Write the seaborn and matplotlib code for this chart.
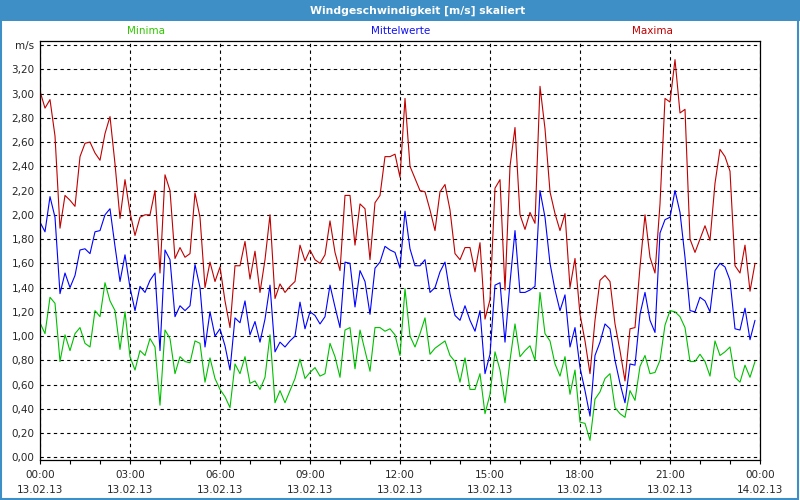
import pandas as pd
import matplotlib
matplotlib.use("Agg")
import matplotlib.pyplot as plt
import matplotlib.dates as mdates
from matplotlib.patches import Rectangle
from matplotlib.ticker import FixedLocator, FixedFormatter
import seaborn as sns

maxima = [
    3.02, 2.88, 2.95, 2.65, 1.89, 2.16, 2.12, 2.07, 2.48, 2.59, 2.60, 2.51, 2.45, 2.67, 2.81, 2.42,
    1.97, 2.29, 2.02, 1.83, 1.98, 2.00, 2.00, 2.20, 1.52,
    2.33, 2.20, 1.64, 1.73, 1.65, 1.68, 2.18, 1.98, 1.40, 1.61, 1.45, 1.57, 1.29, 1.07, 1.58, 1.58, 1.78, 1.47,
    1.70, 1.36, 1.63, 2.00, 1.31, 1.43, 1.36, 1.41, 1.45, 1.75, 1.62, 1.71, 1.63, 1.60, 1.67, 1.95, 1.69, 1.54,
    2.16, 2.16, 1.75, 2.09, 2.05, 1.63, 2.10, 2.16, 2.48, 2.48, 2.50, 2.31, 2.96, 2.40, 2.30, 2.20, 2.19, 2.04,
    1.87, 2.19, 2.25, 2.04, 1.68, 1.63, 1.73, 1.73, 1.53, 1.77, 1.14, 1.30, 2.22, 2.29, 1.38, 2.40, 2.72, 2.00,
    1.88, 2.02, 1.93, 3.06, 2.71, 2.19, 2.01, 1.87, 2.01, 1.40, 1.64, 1.18, 0.96, 0.69, 1.13, 1.46, 1.50, 1.45,
    1.10, 0.88, 0.63, 1.06, 1.07, 1.57, 2.00, 1.65, 1.52, 2.09, 2.96, 2.93, 3.28, 2.84, 2.87, 1.80, 1.69, 1.80,
    1.91, 1.79, 2.26, 2.54, 2.48, 2.36, 1.58, 1.52, 1.75, 1.37, 1.60,
]
mittelwerte = [
    1.94, 1.86, 2.15, 1.98, 1.35, 1.52, 1.40, 1.50, 1.71, 1.72, 1.68, 1.86, 1.87, 2.00, 2.05, 1.74,
    1.45, 1.67, 1.40, 1.21, 1.41, 1.36, 1.46, 1.52, 0.88,
    1.71, 1.63, 1.16, 1.25, 1.21, 1.25, 1.59, 1.40, 0.91, 1.20, 1.00, 1.06, 0.92, 0.72, 1.15, 1.11, 1.29, 1.01,
    1.12, 0.95, 1.14, 1.42, 0.87, 0.95, 0.91, 0.96, 1.00, 1.28, 1.06, 1.20, 1.17, 1.10, 1.16, 1.42, 1.24, 1.07,
    1.61, 1.60, 1.24, 1.54, 1.45, 1.18, 1.56, 1.61, 1.74, 1.71, 1.69, 1.56, 2.03, 1.72, 1.58, 1.58, 1.63, 1.36,
    1.40, 1.53, 1.61, 1.35, 1.17, 1.13, 1.25, 1.13, 1.04, 1.21, 0.69, 0.85, 1.42, 1.44, 0.95, 1.44, 1.87, 1.36,
    1.36, 1.38, 1.41, 2.20, 1.98, 1.60, 1.38, 1.21, 1.34, 0.91, 1.07, 0.74, 0.55, 0.34, 0.84, 0.95, 1.10, 1.06,
    0.80, 0.61, 0.45, 0.77, 0.76, 1.18, 1.36, 1.13, 1.03, 1.85, 1.96, 1.98, 2.20, 2.02, 1.65, 1.21, 1.20, 1.32,
    1.29, 1.20, 1.54, 1.60, 1.57, 1.46, 1.06, 1.05, 1.23, 0.97, 1.13,
]
minima = [
    1.11, 1.02, 1.32, 1.27, 0.79, 1.01, 0.88, 1.02, 1.07, 0.94, 0.91, 1.21, 1.16, 1.44, 1.29, 1.21,
    0.89, 1.20, 0.83, 0.72, 0.88, 0.84, 0.98, 0.91, 0.43,
    1.05, 0.98, 0.69, 0.83, 0.79, 0.78, 0.96, 0.94, 0.62, 0.82, 0.65, 0.56, 0.50, 0.41, 0.77, 0.69, 0.83, 0.61,
    0.63, 0.56, 0.66, 1.01, 0.45, 0.55, 0.45, 0.55, 0.65, 0.81, 0.65, 0.70, 0.74, 0.67, 0.69, 0.94, 0.83, 0.66,
    1.05, 1.07, 0.73, 1.05, 0.88, 0.71, 1.07, 1.07, 1.04, 1.06, 1.01, 0.84, 1.39, 1.00, 0.91, 1.02, 1.15, 0.85,
    0.90, 0.93, 0.96, 0.84, 0.79, 0.62, 0.82, 0.56, 0.56, 0.69, 0.36, 0.52, 0.87, 0.72, 0.45, 0.80, 1.10, 0.83,
    0.88, 0.92, 0.80, 1.36, 1.02, 0.96, 0.77, 0.67, 0.83, 0.52, 0.72, 0.29, 0.28, 0.14, 0.48, 0.54, 0.65, 0.69,
    0.41, 0.36, 0.33, 0.55, 0.47, 0.75, 0.84, 0.69, 0.70, 0.80, 1.09, 1.21, 1.20, 1.16, 1.07, 0.79, 0.79, 0.85,
    0.79, 0.67, 0.96, 0.84, 0.87, 0.91, 0.66, 0.62, 0.76, 0.66, 0.79,
]

y_ticks = [0.0, 0.2, 0.4, 0.6, 0.8, 1.0, 1.2, 1.4, 1.6, 1.8, 2.0, 2.2, 2.4, 2.6, 2.8, 3.0, 3.2, 3.4]
y_labels = ["0,00", "0,20", "0,40", "0,60", "0,80", "1,00", "1,20", "1,40", "1,60", "1,80",
            "2,00", "2,20", "2,40", "2,60", "2,80", "3,00", "3,20", "m/s"]

titel = "Windgeschwindigkeit [m/s] skaliert"
start = "2013-02-13 00:00"
ende = "2013-02-14 00:00"

df = pd.DataFrame({
    "Zeit": pd.date_range(start, periods=len(maxima), freq="10min"),
    "Maxima": maxima,
    "Mittelwerte": mittelwerte,
    "Minima": minima,
})

farben = {"Minima": "#00c000", "Mittelwerte": "#0000ff", "Maxima": "#c00000"}
text_farben = {"Minima": "#30c800", "Mittelwerte": "#1010f0", "Maxima": "#c00000"}
rahmen_blau = "#3d8fc6"

sns.set_style("white")
plt.rcParams["font.family"] = ["DejaVu Sans"]
plt.rcParams["font.size"] = 7.5

fig = plt.figure(figsize=(8, 5), dpi=100)
fig.patch.set_facecolor("white")

# Titelleiste und Fensterrahmen
fig.patches.append(Rectangle((0, 1 - 21 / 500), 1, 21 / 500, transform=fig.transFigure,
                             facecolor=rahmen_blau, edgecolor="none", zorder=0))
fig.patches.append(Rectangle((0.001, 0.002), 0.997, 0.996, transform=fig.transFigure,
                             facecolor="none", edgecolor=rahmen_blau, linewidth=1.5, zorder=1))
fig.text(418 / 800, 1 - 10.5 / 500, titel, color="white", fontweight="bold", fontsize=7.8,
         ha="center", va="center")

ax = fig.add_axes([40 / 800, 40 / 500, 720 / 800, 419.3 / 500])

for serie in ["Maxima", "Mittelwerte", "Minima"]:
    sns.lineplot(data=df, x="Zeit", y=serie, color=farben[serie], linewidth=0.8, ax=ax, legend=False)

ax.set_xlim(pd.Timestamp(start), pd.Timestamp(ende))
ax.set_ylim(-0.022, 3.436)
ax.set_xlabel("")
ax.set_ylabel("")

ax.xaxis.set_major_locator(mdates.HourLocator(interval=3))
ax.xaxis.set_minor_locator(mdates.HourLocator())
ax.xaxis.set_major_formatter(mdates.DateFormatter("%H:%M\n%d.%m.%y"))
ax.yaxis.set_major_locator(FixedLocator(y_ticks))
ax.yaxis.set_major_formatter(FixedFormatter(y_labels))

ax.tick_params(axis="x", which="both", direction="out", length=3, width=0.8, color="black",
               bottom=True, pad=4, labelsize=7.5)
ax.tick_params(axis="y", which="both", length=0, pad=4, labelsize=7.5)
for lab in ax.get_xticklabels():
    lab.set_linespacing(1.6)

ax.grid(True, which="major", color="black", linestyle=(0, (3, 3)), linewidth=0.8)
ax.set_axisbelow(True)
for side in ["left", "bottom", "right", "top"]:
    ax.spines[side].set_visible(True)
    ax.spines[side].set_color("black")
    ax.spines[side].set_linewidth(0.9)

# Legende als farbige Beschriftung oberhalb des Diagramms
for pos, serie in zip([0.147, 0.501, 0.85], ["Minima", "Mittelwerte", "Maxima"]):
    ax.text(pos, 1 + 9.5 / 419.3, serie, transform=ax.transAxes, color=text_farben[serie],
            ha="center", va="center", fontsize=7.5)

fig.savefig("out.png", dpi=100)
